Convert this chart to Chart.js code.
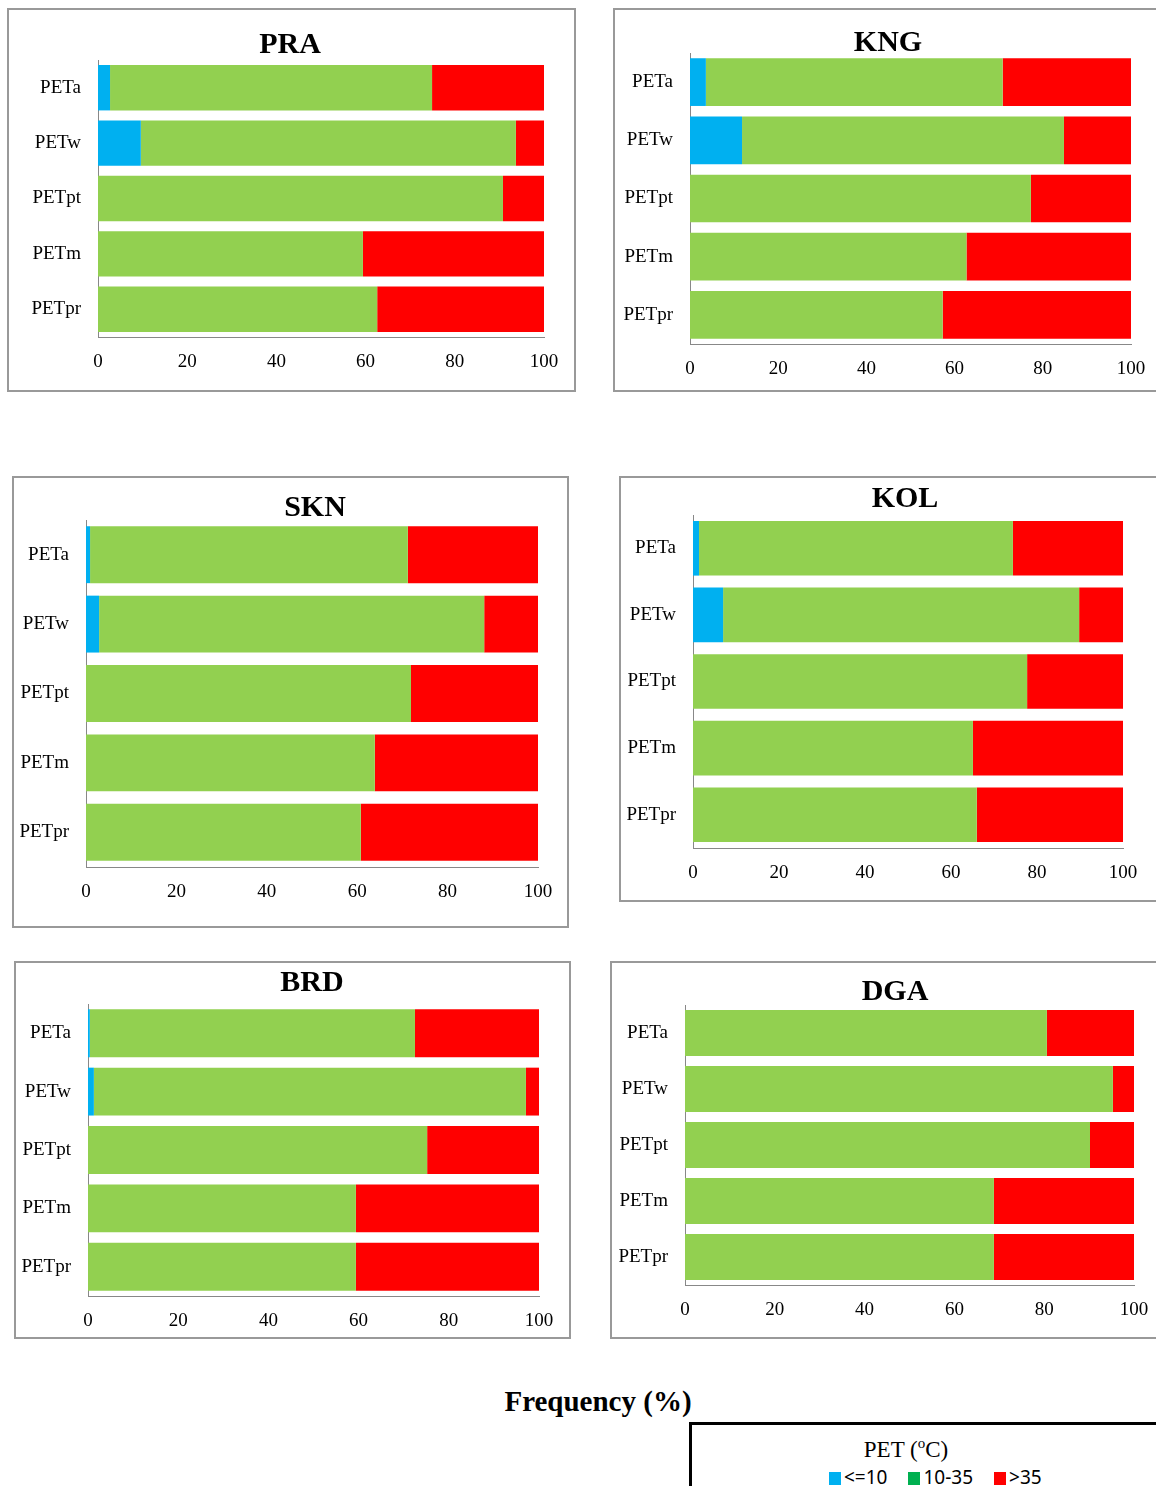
<!DOCTYPE html>
<html>
<head>
<meta charset="utf-8">
<script src="https://cdn.jsdelivr.net/npm/chart.js@4"></script>
<style>
  body { margin: 0; width: 1156px; height: 1486px; position: relative; background: #fff; overflow: hidden; font-family: "Liberation Serif", serif; }
  .panel { position: absolute; border: 2px solid #999; box-sizing: border-box; background: #fff; }
  .panel canvas { width: 100% !important; height: 100% !important; }
  #freq { position: absolute; left: 0; width: 1196px; top: 1385px; text-align: center; font-weight: bold; font-size: 29px; }
  #legend { position: absolute; left: 689px; top: 1422px; width: 480px; height: 80px; border-top: 3px solid #000; border-left: 3px solid #000; box-sizing: border-box; }
  #legend .t { position: absolute; left: 4px; width: 420px; top: 10px; text-align: center; font-size: 23px; }
  #legend .items { position: absolute; left: 137px; top: 39px; font-family: "Noto Sans", sans-serif; font-size: 19px; white-space: nowrap; }
  #legend .it { display: inline-block; margin-right: 21px; }
  #legend .sw { display: inline-block; width: 12px; height: 13px; margin-right: 3px; vertical-align: -1px; }
</style>
</head>
<body>
<div class="panel" style="left:7px;top:8px;width:569px;height:384px"><canvas id="c0"></canvas></div>
<div class="panel" style="left:613px;top:8px;width:560px;height:384px"><canvas id="c1"></canvas></div>
<div class="panel" style="left:12px;top:476px;width:557px;height:452px"><canvas id="c2"></canvas></div>
<div class="panel" style="left:619px;top:476px;width:550px;height:426px"><canvas id="c3"></canvas></div>
<div class="panel" style="left:14px;top:961px;width:557px;height:378px"><canvas id="c4"></canvas></div>
<div class="panel" style="left:610px;top:961px;width:560px;height:378px"><canvas id="c5"></canvas></div>
<div id="freq">Frequency (%)</div>
<div id="legend">
  <div class="t">PET (<sup style="font-size:15px">o</sup>C)</div>
  <div class="items"><span class="it"><span class="sw" style="background:#00b0f0"></span>&lt;=10</span><span class="it"><span class="sw" style="background:#00b050"></span>10-35</span><span class="it"><span class="sw" style="background:#ff0000"></span>&gt;35</span></div>
</div>
<script>
// Categories and station names
const categories = ["PETa", "PETw", "PETpt", "PETm", "PETpr"];
const stations = ["PRA", "KNG", "SKN", "KOL", "BRD", "DGA"];
const xTicks = [0, 20, 40, 60, 80, 100];

// Frequency (%) of PET <=10 per station
const cold = [
  [2.7, 9.6, 0, 0, 0],
  [3.6, 11.8, 0, 0, 0],
  [0.9, 2.9, 0, 0, 0],
  [1.4, 7.0, 0, 0, 0],
  [0.4, 1.3, 0, 0, 0],
  [0, 0, 0, 0, 0]
];
// Frequency (%) of PET 10-35
const mild = [
  [72.2, 84.1, 90.8, 59.4, 62.6],
  [67.3, 73.0, 77.3, 62.7, 57.3],
  [70.3, 85.2, 71.9, 63.9, 60.8],
  [73.0, 82.8, 77.7, 65.1, 66.0],
  [72.1, 95.8, 75.2, 59.4, 59.4],
  [80.6, 95.3, 90.2, 68.8, 68.8]
];
// Frequency (%) of PET >35
const hot = [
  [25.1, 6.3, 9.2, 40.6, 37.4],
  [29.1, 15.2, 22.7, 37.3, 42.7],
  [28.8, 11.9, 28.1, 36.1, 39.2],
  [25.6, 10.2, 22.3, 34.9, 34.0],
  [27.5, 2.9, 24.8, 40.6, 40.6],
  [19.4, 4.7, 9.8, 31.2, 31.2]
];

// per-panel layout so plot areas sit where they do in the reference
const pads = [
  { top: 50, left: 0, right: 30, bottom: 16 },
  { top: 43, left: 0, right: 40, bottom: 9 },
  { top: 42, left: 0, right: 29, bottom: 22 },
  { top: 37, left: 0, right: 44, bottom: 15 },
  { top: 41, left: 0, right: 30, bottom: 4 },
  { top: 42, left: 0, right: 34, bottom: 15 }
];
const yAxisW = [89, 75, 72, 72, 72, 73];
const titleX = [281, 273, 301, 284, 296, 283];
const titleY = [35, 33, 30, 21, 20, 29];

// panel title drawn on the canvas
const plotTitle = {
  id: "plotTitle",
  afterDraw(chart) {
    const i = chart.options.plugins.plotTitle.idx;
    const ctx = chart.ctx;
    ctx.save();
    ctx.font = "bold 30px 'Liberation Serif'";
    ctx.fillStyle = "#000";
    ctx.textAlign = "center";
    ctx.textBaseline = "middle";
    ctx.fillText(stations[i], titleX[i], titleY[i]);
    ctx.restore();
  }
};

stations.forEach((name, i) => {
  new Chart(document.getElementById("c" + i), {
    type: "bar",
    data: {
      labels: categories,
      datasets: [
        { label: "<=10", data: cold[i], backgroundColor: "#00b0f0" },
        { label: "10-35", data: mild[i], backgroundColor: "#92d050" },
        { label: ">35", data: hot[i], backgroundColor: "#ff0000" }
      ]
    },
    plugins: [plotTitle],
    options: {
      indexAxis: "y",
      responsive: true,
      maintainAspectRatio: false,
      animation: false,
      barPercentage: 0.82,
      categoryPercentage: 1,
      layout: { padding: pads[i] },
      plugins: {
        legend: { display: false },
        tooltip: { enabled: false },
        title: { display: false },
        plotTitle: { idx: i }
      },
      scales: {
        x: {
          stacked: true, min: 0, max: 100,
          afterBuildTicks: ax => { ax.ticks = xTicks.map(v => ({ value: v })); },
          afterFit: ax => { ax.height = 37; },
          grid: { display: false, drawTicks: true, tickLength: 6, color: "#888" },
          border: { display: true, color: "#888", width: 1 },
          ticks: { color: "#000", font: { family: "Liberation Serif", size: 19 }, padding: 8 }
        },
        y: {
          stacked: true,
          afterFit: ax => { ax.width = yAxisW[i]; },
          grid: { display: false, tickLength: 0 },
          border: { display: true, color: "#888", width: 1 },
          ticks: { color: "#000", font: { family: "Liberation Serif", size: 19 }, padding: 17 }
        }
      }
    }
  });
});
</script>
</body>
</html>
